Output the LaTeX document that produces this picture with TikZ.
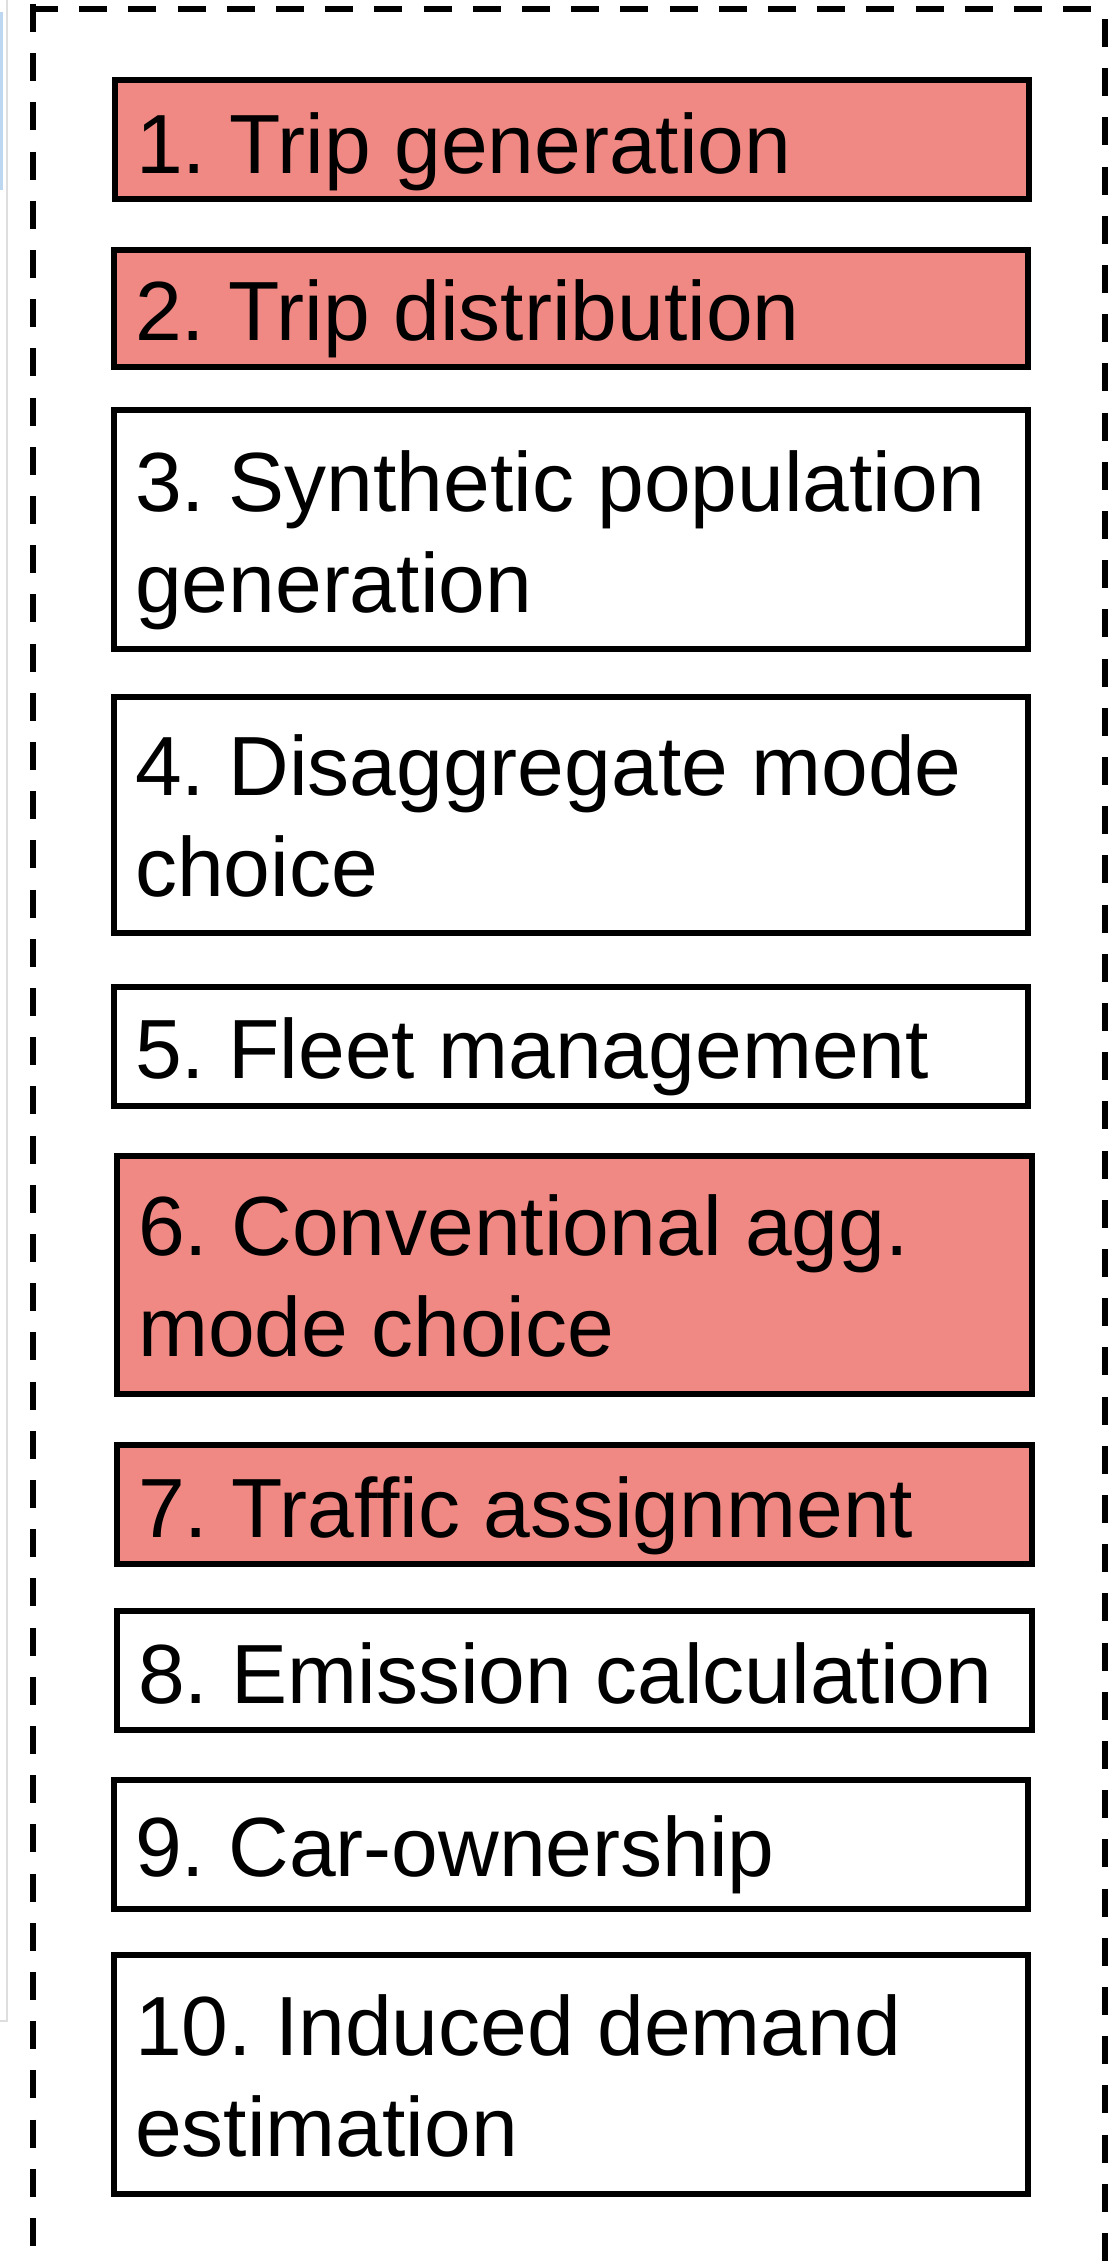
\documentclass[tikz,border=0pt]{standalone}
\usepackage{fontspec}
\setmainfont{Liberation Sans}
\frenchspacing
\definecolor{salmon}{RGB}{240,137,131}
\definecolor{edgegray}{RGB}{222,222,222}
\definecolor{edgeblue}{RGB}{190,215,240}
\newcommand{\twoline}[2]{\vtop{\hbox{#1}\hbox{#2}}}
\begin{document}
\begin{tikzpicture}[x=1pt,y=-1pt,
  stepbox/.style={draw=black,line width=6.5pt,rectangle,inner sep=0pt,outer sep=0pt,anchor=north west},
  redbox/.style={stepbox,fill=salmon},
  whitebox/.style={stepbox,fill=white},
  steptext/.style={inner sep=0pt,anchor=base west,font=\fontsize{84}{101}\selectfont\frenchspacing},
  frameline/.style={line width=6.5pt,dash pattern=on 28pt off 21.2pt}]
\useasboundingbox (0,0) rectangle (1117,2264);
% faint edge of a neighbouring panel
\draw[edgegray,line width=1.5pt] (7,0) -- (7,2021) -- (0,2021);
\draw[edgeblue,line width=3pt] (1.5,12) -- (1.5,190);
% dashed frame
\draw[frameline] (30,9) -- (1108,9);
\draw[frameline] (33,4) -- (33,2264);
\draw[frameline] (1105,19) -- (1105,2264);
% boxes
\node[redbox,minimum width=914pt,minimum height=119pt] (b1) at (115,80) {};
\node[redbox,minimum width=914pt,minimum height=117pt] (b2) at (114,250) {};
\node[whitebox,minimum width=914pt,minimum height=239pt] (b3) at (114,410) {};
\node[whitebox,minimum width=914pt,minimum height=236pt] (b4) at (114,697) {};
\node[whitebox,minimum width=914pt,minimum height=119pt] (b5) at (114,987) {};
\node[redbox,minimum width=915pt,minimum height=238pt] (b6) at (117,1156) {};
\node[redbox,minimum width=915pt,minimum height=119pt] (b7) at (117,1445) {};
\node[whitebox,minimum width=915pt,minimum height=119pt] (b8) at (117,1611) {};
\node[whitebox,minimum width=914pt,minimum height=129pt] (b9) at (114,1780) {};
\node[whitebox,minimum width=914pt,minimum height=239pt] (b10) at (114,1955) {};
% texts
\node[steptext] (t1) at (136,173) {1. Trip generation};
\node[steptext] (t2) at (135,340) {2. Trip distribution};
\node[steptext] (t3) at (135,511) {\twoline{3. Synthetic population}{generation}};
\node[steptext] (t4) at (135,795) {\twoline{4. Disaggregate mode}{choice}};
\node[steptext] (t5) at (135,1078) {5. Fleet management};
\node[steptext] (t6) at (138,1255) {\twoline{6. Conventional agg.}{mode choice}};
\node[steptext] (t7) at (138,1537) {7. Traffic assignment};
\node[steptext] (t8) at (138,1703) {8. Emission calculation};
\node[steptext] (t9) at (135,1876) {9. Car-ownership};
\node[steptext] (t10) at (135,2055) {\twoline{10. Induced demand}{estimation}};
\end{tikzpicture}
\end{document}
